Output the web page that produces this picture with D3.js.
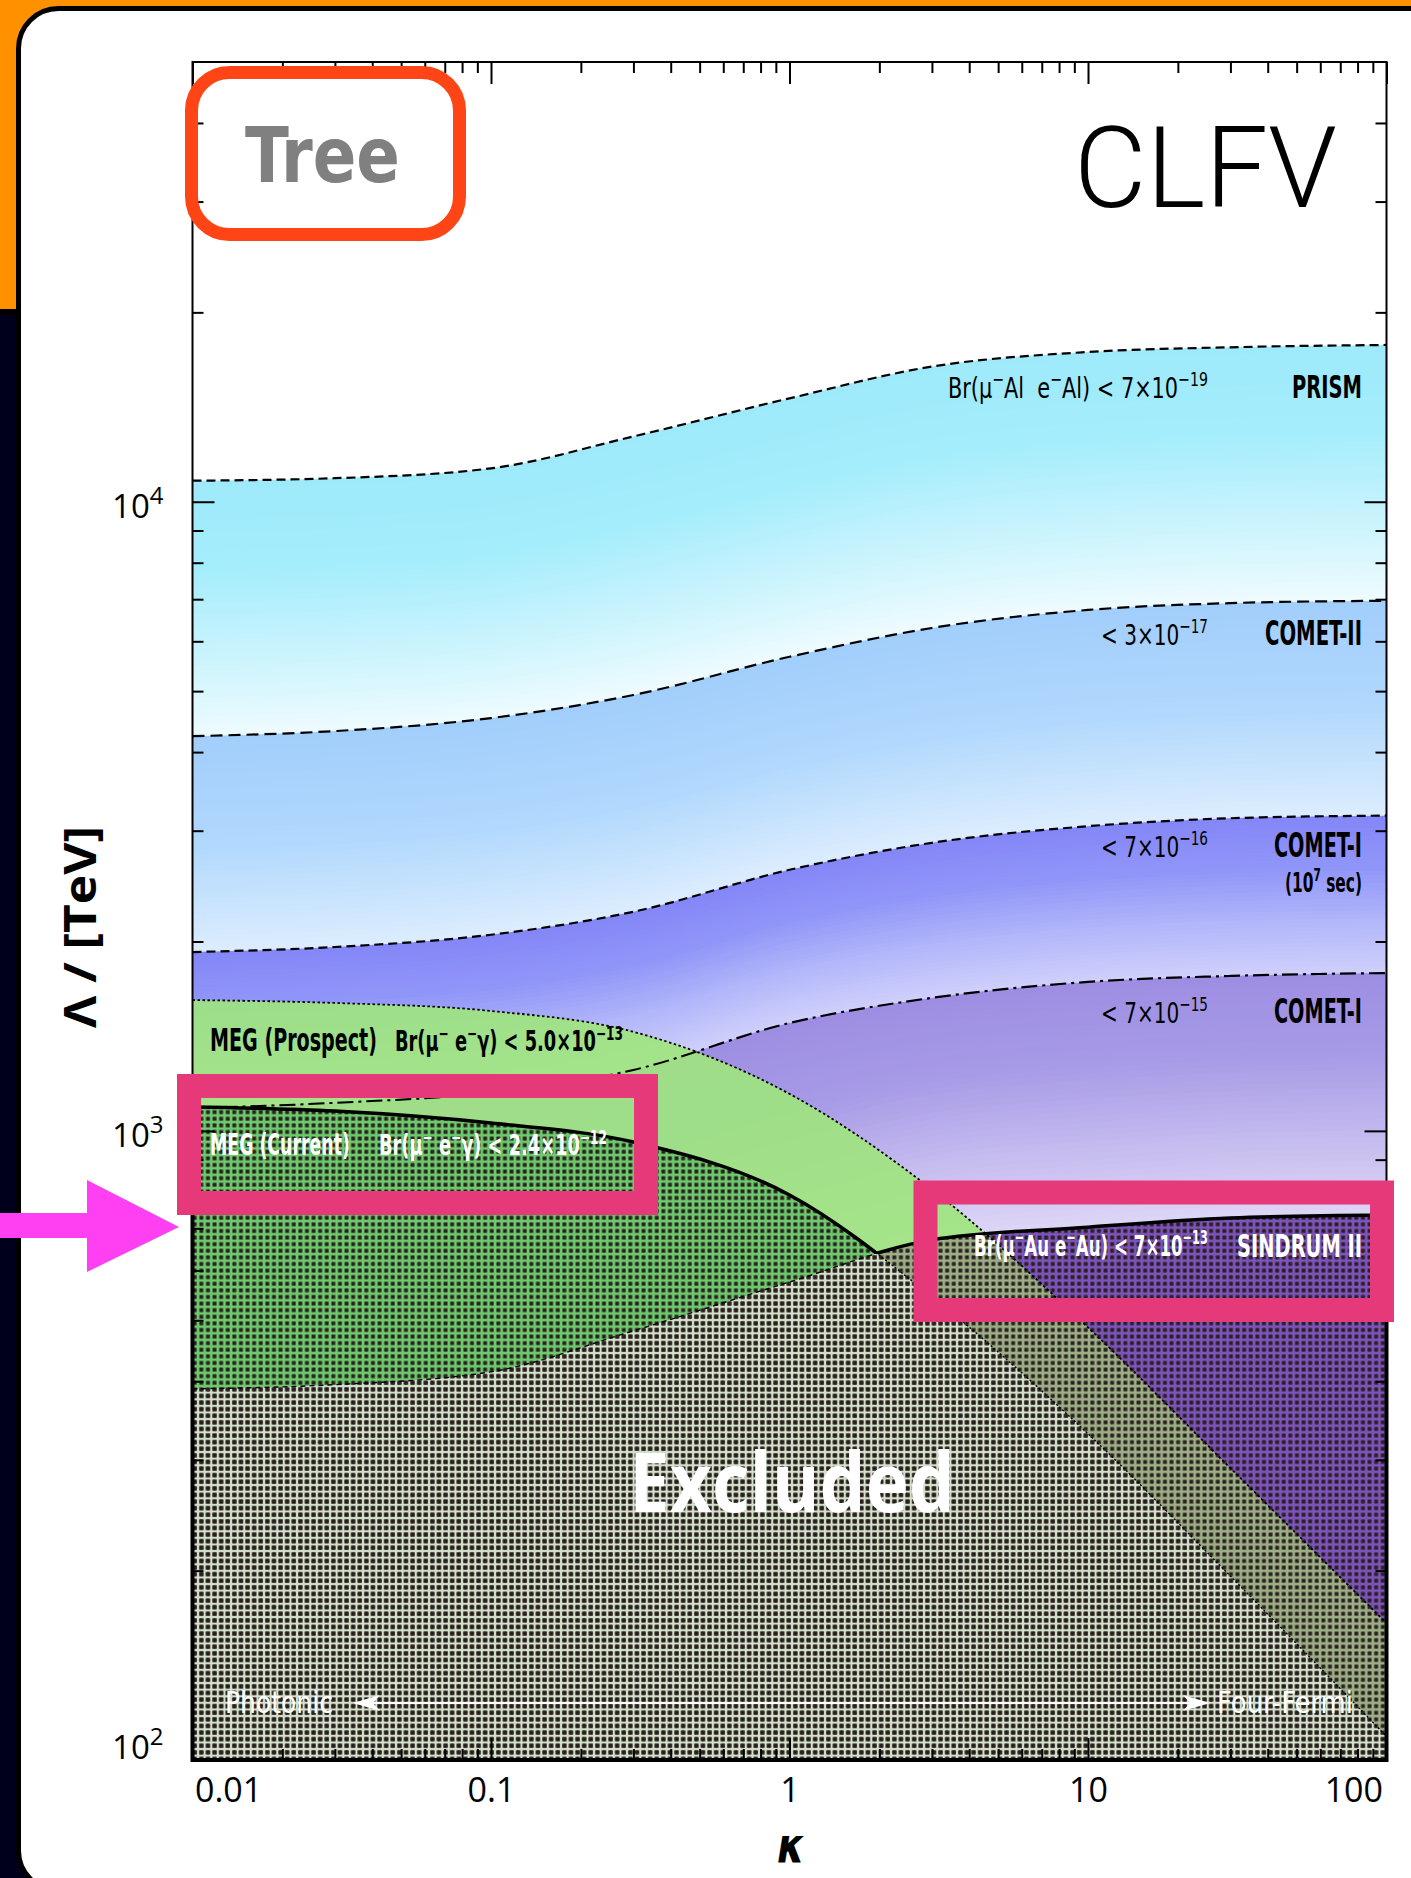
<!DOCTYPE html>
<html>
<head>
<meta charset="utf-8">
<script src="https://cdn.jsdelivr.net/npm/d3@7"></script>
<style>body{margin:0;background:#fff}</style>
</head>
<body>
<script>
var kappa = [0.01, 0.03, 0.1, 0.3, 1, 3, 10, 30, 100];

// Lambda [TeV] of each boundary, same kappa points
var prism       = [10800, 10900, 11300, 12700, 14600, 16400, 17300, 17600, 17750];
var cometII     = [4240, 4320, 4530, 4930, 5670, 6300, 6730, 6900, 6960];
var cometI7     = [1924, 1960, 2050, 2230, 2600, 2870, 3050, 3140, 3170];
var cometI      = [1087, 1108, 1150, 1250, 1484, 1627, 1725, 1763, 1782];
var sindrum     = [389, 395, 414, 481, 575, 671, 703, 727, 735];
var megProspect = [1614, 1597, 1551, 1437, 1145, 807, 487, 291, 165];
var megCurrent  = [1091, 1075, 1029, 960, 791, 545, 330, 196, 109];

var xMajor = [0.01, 0.1, 1, 10, 100];
var xLabels = ["0.01", "0.1", "1", "10", "100"];
var yMajor = [100, 1000, 10000];
var yExp = ["2", "3", "4"];

var W = 1411, H = 1878;
var cond = "'Liberation Sans Narrow','DejaVu Sans Condensed',sans-serif";

var svg = d3.select("body").append("svg").attr("width", W).attr("height", H);

// slide background
svg.append("rect").attr("width", W).attr("height", 312).attr("fill", "#ff9000");
svg.append("rect").attr("y", 312).attr("width", W).attr("height", H - 312).attr("fill", "#00001c");
svg.append("rect").attr("y", 309).attr("width", 20).attr("height", 6).attr("fill", "#000");
svg.append("rect").attr("x", 18.5).attr("y", 8.5).attr("width", 1440).attr("height", 1882)
  .attr("rx", 40).attr("fill", "#fff").attr("stroke", "#000").attr("stroke-width", 5);

var x = d3.scaleLog().domain([0.01, 100]).range([192.5, 1386.5]);
var y = d3.scaleLog().domain([100, 50000]).range([1760, 62]);
var yBot = y(100), yTop = y(50000);

var defs = svg.append("defs");
defs.append("clipPath").attr("id", "plot").append("rect")
  .attr("x", x(0.01)).attr("y", yTop).attr("width", x(100) - x(0.01)).attr("height", yBot - yTop);

var pat = defs.append("pattern").attr("id", "hatch").attr("patternUnits", "userSpaceOnUse")
  .attr("width", 6.6).attr("height", 6.6);
pat.append("rect").attr("x", 1.4).attr("y", 1.4).attr("width", 3.9).attr("height", 3.9).attr("fill", "#2b1e1f");

var pts = function(arr){ return kappa.map(function(k, i){ return [x(k), y(arr[i])]; }); };
var line = d3.line().curve(d3.curveMonotoneX);
var below = d3.area().curve(d3.curveMonotoneX).x(function(d){return d[0];}).y0(yBot).y1(function(d){return d[1];});
var above = d3.area().curve(d3.curveMonotoneX).x(function(d){return d[0];}).y0(yTop).y1(function(d){return d[1];});

function clip(id, d){ defs.append("clipPath").attr("id", id).append("path").attr("d", d); }
clip("aboveSin", above(pts(sindrum)));
clip("belowSin", below(pts(sindrum)));
clip("aboveMeg", above(pts(megCurrent)));
clip("belowMeg", below(pts(megCurrent)));
clip("belowPro", below(pts(megProspect)));

var plot = svg.append("g").attr("clip-path", "url(#plot)");
plot.append("rect").attr("x", x(0.01)).attr("y", yTop).attr("width", x(100) - x(0.01))
  .attr("height", yBot - yTop).attr("fill", "#fff");

// shaded bands, painted as stacked strips so the shading follows the curves
function band(upper, lower, colors, n){
  var c = d3.scaleLinear().domain(colors.map(function(_, i){ return i / (colors.length - 1); }))
    .range(colors).interpolate(d3.interpolateRgb);
  for (var i = 0; i < n; i++){
    var t = i / n;
    var p = kappa.map(function(k, j){ return [x(k), (1 - t) * y(upper[j]) + t * y(lower[j])]; });
    plot.append("path").attr("d", below(p)).attr("fill", c((i + 0.5) / n));
  }
}
band(prism, cometII, ["#9eeafb", "#a4edfc", "#c8f3fd", "#eefbff"], 40);
band(cometII, cometI7, ["#a2cefc", "#b1d8fd", "#dcedfe"], 40);
band(cometI7, cometI, ["#8486f7", "#9096f8", "#b2b6fa", "#d0d0fc"], 40);
band(cometI, sindrum, ["#9e8ee3", "#a79ae6", "#c4baef", "#ddd6f6"], 40);

var dash = {prism: "9,5", cometII: "12,6", cometI7: "9,5", cometI: "16,5,3,5"};
[[prism, dash.prism], [cometII, dash.cometII], [cometI7, dash.cometI7], [cometI, dash.cometI]].forEach(function(s){
  plot.append("path").attr("d", line(pts(s[0]))).attr("fill", "none").attr("stroke", "#000")
    .attr("stroke-width", 2.2).attr("stroke-dasharray", s[1]);
});

// MEG prospect region
plot.append("path").attr("d", below(pts(megProspect))).attr("fill", "#9fe57d").attr("fill-opacity", 0.9);
// the dash-dot stays visible through the green, as in the original
plot.append("path").attr("d", line(pts(cometI))).attr("fill", "none").attr("stroke", "#000")
  .attr("stroke-width", 2).attr("stroke-dasharray", dash.cometI).attr("clip-path", "url(#belowPro)");

// excluded regions
plot.append("path").attr("d", below(pts(megCurrent))).attr("fill", "#6ccb6c");
plot.append("path").attr("d", below(pts(sindrum))).attr("fill", "#7d54bd");
plot.append("g").attr("clip-path", "url(#belowPro)")
  .append("path").attr("d", below(pts(sindrum))).attr("fill", "#9cb086");
plot.append("g").attr("clip-path", "url(#belowMeg)")
  .append("path").attr("d", below(pts(sindrum))).attr("fill", "#d2e2ca");
plot.append("path").attr("d", below(pts(megCurrent))).attr("fill", "url(#hatch)");
plot.append("path").attr("d", below(pts(sindrum))).attr("fill", "url(#hatch)");

// boundaries
plot.append("path").attr("d", line(pts(megProspect))).attr("fill", "none").attr("stroke", "#000")
  .attr("stroke-width", 1.8).attr("stroke-dasharray", "2.5,2.5");
plot.append("g").attr("clip-path", "url(#aboveSin)").append("path").attr("d", line(pts(megCurrent)))
  .attr("fill", "none").attr("stroke", "#000").attr("stroke-width", 3.5);
plot.append("g").attr("clip-path", "url(#belowSin)").append("path").attr("d", line(pts(megCurrent)))
  .attr("fill", "none").attr("stroke", "#000").attr("stroke-width", 1.4).attr("stroke-dasharray", "2,2");
plot.append("g").attr("clip-path", "url(#aboveMeg)").append("path").attr("d", line(pts(sindrum)))
  .attr("fill", "none").attr("stroke", "#000").attr("stroke-width", 3.5);
plot.append("g").attr("clip-path", "url(#belowMeg)").append("path").attr("d", line(pts(sindrum)))
  .attr("fill", "none").attr("stroke", "#000").attr("stroke-width", 1.4).attr("stroke-dasharray", "5,4");

svg.append("path")
  .attr("d", "M" + x(0.01) + "," + y(megCurrent[0]) + "V" + yBot + "H" + x(100) + "V" + y(sindrum[sindrum.length - 1]))
  .attr("fill", "none").attr("stroke", "#000").attr("stroke-width", 4);

// frame and axes
svg.append("rect").attr("x", x(0.01)).attr("y", yTop).attr("width", x(100) - x(0.01))
  .attr("height", yBot - yTop).attr("fill", "none").attr("stroke", "#000").attr("stroke-width", 2);

var mult = [2, 3, 4, 5, 6, 7, 8, 9];
var xMinor = [0.01, 0.1, 1, 10].reduce(function(a, b){ return a.concat(mult.map(function(m){ return m * b; })); }, []);
var yMinor = [100, 1000].reduce(function(a, b){ return a.concat(mult.map(function(m){ return m * b; })); }, []).concat([20000, 30000, 40000]);

function axis(gen, pos, major, minor){
  var g = svg.append("g").attr("transform", pos);
  g.call(gen.tickValues(major).tickSize(-22).tickFormat(""));
  g.append("g").call(gen.tickValues(minor).tickSize(-11).tickFormat(""));
  g.selectAll(".domain").remove();
  g.selectAll("line").attr("stroke-width", 2);
  return g;
}
axis(d3.axisBottom(x), "translate(0," + yBot + ")", xMajor, xMinor);
axis(d3.axisTop(x), "translate(0," + yTop + ")", xMajor, xMinor);
axis(d3.axisLeft(y), "translate(" + x(0.01) + ",0)", yMajor, yMinor);
axis(d3.axisRight(y), "translate(" + x(100) + ",0)", yMajor, yMinor);

var gxl = svg.append("g").attr("transform", "translate(0," + yBot + ")")
  .call(d3.axisBottom(x).tickValues(xMajor).tickSize(0).tickPadding(18).tickFormat(function(d, i){ return xLabels[i]; }));
gxl.select(".domain").remove();
gxl.attr("font-family", "'Open Sans',sans-serif").attr("font-size", 34);
gxl.selectAll(".tick text").attr("text-anchor", function(d, i){ return i === 0 ? "start" : (i === xMajor.length - 1 ? "end" : "middle"); })
  .attr("x", function(d, i){ return i === 0 ? 2 : (i === xMajor.length - 1 ? -4 : 0); });

var gyl = svg.append("g").attr("transform", "translate(" + x(0.01) + ",0)")
  .call(d3.axisLeft(y).tickValues(yMajor).tickSize(0).tickPadding(29).tickFormat(""));
gyl.select(".domain").remove();
gyl.attr("font-family", "'Open Sans',sans-serif").attr("font-size", 33);
gyl.selectAll(".tick text").each(function(d, i){
  var t = d3.select(this);
  t.append("tspan").text("10");
  t.append("tspan").attr("dy", -14).attr("font-size", 24).text(yExp[i]);
}).attr("dy", function(d){ return d === 100 ? "-0.06em" : "0.47em"; });

// text scaled to the measured width of the original
function label(parts, o){
  var g = svg.append("g");
  var t = g.append("text").attr("font-family", o.font || cond).attr("font-size", o.size)
    .attr("font-weight", o.weight || "normal").attr("font-style", o.style || "normal")
    .attr("fill", o.fill || "#000").style("white-space", "pre");
  var up = false, sh = o.size * 0.4;
  parts.forEach(function(p){
    var sup = typeof p !== "string";
    var ts = t.append("tspan").text(sup ? p.s : p);
    if (sup){ ts.attr("font-size", o.size * 0.68); if (!up){ ts.attr("dy", -sh); up = true; } }
    else if (up){ ts.attr("dy", sh); up = false; }
  });
  var k = o.w / t.node().getComputedTextLength();
  g.attr("transform", "translate(" + o.x + "," + o.y + ")" + (o.rot ? " rotate(" + o.rot + ")" : "") + " scale(" + k + ",1)");
}

label(["CLFV"], {x: 1074, y: 207, w: 263, size: 113, weight: 300, font: "Roboto,'Liberation Sans',sans-serif"});
label(["Br(μ", {s: "−"}, "Al  e", {s: "−"}, "Al) < 7×10", {s: "−19"}], {x: 948, y: 398, w: 260, size: 29});
label(["PRISM"], {x: 1292, y: 398, w: 70, size: 32, weight: "bold"});
label(["< 3×10", {s: "−17"}], {x: 1101, y: 645, w: 107, size: 29});
label(["COMET-II"], {x: 1265, y: 645, w: 97, size: 33, weight: "bold"});
label(["< 7×10", {s: "−16"}], {x: 1101, y: 857, w: 107, size: 29});
label(["COMET-I"], {x: 1274, y: 857, w: 88, size: 33, weight: "bold"});
label(["(10", {s: "7"}, " sec)"], {x: 1285, y: 892, w: 77, size: 27, weight: "bold"});
label(["< 7×10", {s: "−15"}], {x: 1101, y: 1023, w: 107, size: 29});
label(["COMET-I"], {x: 1274, y: 1023, w: 88, size: 33, weight: "bold"});
label(["MEG (Prospect)"], {x: 210, y: 1051, w: 167, size: 32, weight: "bold"});
label(["Br(μ", {s: "−"}, " e", {s: "−"}, "γ) < 5.0×10", {s: "−13"}], {x: 395, y: 1051, w: 228, size: 28, weight: "bold"});
label(["MEG (Current)"], {x: 210, y: 1155, w: 140, size: 30, weight: "bold", fill: "#fff"});
label(["Br(μ", {s: "−"}, " e", {s: "−"}, "γ) < 2.4×10", {s: "−12"}], {x: 379, y: 1155, w: 228, size: 28, weight: "bold", fill: "#fff"});
label(["Br(μ", {s: "−"}, "Au e", {s: "−"}, "Au) < 7×10", {s: "−13"}], {x: 974, y: 1256, w: 234, size: 29, weight: "bold", fill: "#fff"});
label(["SINDRUM II"], {x: 1237, y: 1257, w: 125, size: 32, weight: "bold", fill: "#fff"});
label(["Excluded"], {x: 629, y: 1512, w: 326, size: 82, weight: "bold", fill: "#fff", font: "'Open Sans',sans-serif"});
label(["Photonic"], {x: 225, y: 1713, w: 108, size: 31, fill: "#fff"});
label(["Four-Fermi"], {x: 1217, y: 1713, w: 136, size: 31, fill: "#fff"});
label(["Λ / [TeV]"], {x: 96, y: 1028, w: 202, size: 44, weight: "bold", rot: -90, font: "'Open Sans',sans-serif"});
label(["κ"], {x: 777, y: 1862, w: 28, size: 48, weight: "bold", style: "italic", font: "'DejaVu Sans',sans-serif"});

// photonic <-> four-fermi arrow
svg.append("line").attr("x1", 372).attr("x2", 1192).attr("y1", 1703).attr("y2", 1703)
  .attr("stroke", "#fff").attr("stroke-width", 2);
svg.append("path").attr("d", "M353,1703L380,1695L373,1703L380,1711Z").attr("fill", "#fff");
svg.append("path").attr("d", "M1210,1703L1183,1695L1190,1703L1183,1711Z").attr("fill", "#fff");

// slide annotations
svg.append("rect").attr("x", 191.5).attr("y", 72.5).attr("width", 268).attr("height", 162).attr("rx", 38)
  .attr("fill", "none").attr("stroke", "#ff4516").attr("stroke-width", 13);
label(["Tree"], {x: 245, y: 182, w: 155, size: 76, weight: "bold", fill: "#808080"});
svg.append("rect").attr("x", 189).attr("y", 1086).attr("width", 457).attr("height", 117)
  .attr("fill", "none").attr("stroke", "#e5397a").attr("stroke-width", 24);
svg.append("rect").attr("x", 925.5).attr("y", 1192.5).attr("width", 456.5).attr("height", 117.5)
  .attr("fill", "none").attr("stroke", "#e5397a").attr("stroke-width", 24);
svg.append("path").attr("d", "M0,1213H87V1180L179,1227L87,1272V1238H0Z").attr("fill", "#ff3ff2");
</script>
</body>
</html>
